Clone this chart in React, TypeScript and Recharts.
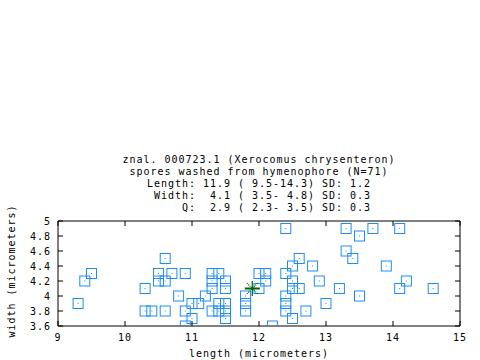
import { ScatterChart, Scatter, XAxis, YAxis } from 'recharts';

// spore measurements (micrometers)
const lengths = [
    9.3, 9.4, 9.5, 10.3, 10.3, 10.4, 10.6, 10.5, 10.7, 10.9,
    10.5, 10.6, 10.8, 10.6, 10.9, 11.0, 10.9, 11.0, 11.1, 11.2,
    11.3, 11.4, 11.3, 11.3, 11.5, 11.5, 11.3, 11.4, 11.4, 11.5,
    11.5, 11.5, 11.8, 11.8, 11.8, 12.0, 12.1, 12.1, 12.0, 12.4,
    12.4, 12.4, 12.4, 12.4, 12.5, 12.6, 12.5, 12.8, 12.5, 12.5,
    12.6, 12.9, 12.7, 13.0, 13.2, 12.2, 13.3, 13.5, 13.7, 14.1,
    13.3, 13.4, 13.9, 14.2, 14.1, 14.6, 13.5,
];
const widths = [
    3.9, 4.2, 4.3, 4.1, 3.8, 3.8, 4.5, 4.3, 4.3, 4.3,
    4.2, 4.2, 4.0, 3.8, 3.8, 3.7, 3.6, 3.9, 3.9, 4.0,
    4.3, 4.3, 4.2, 4.1, 4.2, 4.1, 3.8, 3.9, 3.8, 3.9,
    3.8, 3.7, 4.0, 3.9, 3.8, 4.3, 4.3, 4.2, 4.1, 4.9,
    4.3, 4.0, 3.9, 3.8, 3.7, 4.5, 4.4, 4.4, 4.2, 4.1,
    4.1, 4.2, 3.8, 3.9, 4.1, 3.6, 4.9, 4.8, 4.9, 4.9,
    4.6, 4.5, 4.4, 4.2, 4.1, 4.1, 4.0,
];
const meanLength = [11.9];
const meanWidth = [4.1];

const xTicks = [9, 10, 11, 12, 13, 14, 15];
const yTicks = [3.6, 3.8, 4, 4.2, 4.4, 4.6, 4.8, 5];

const titleLines = [
    'znal. 000723.1 (Xerocomus chrysenteron)',
    'spores washed from hymenophore (N=71)',
    'Length: 11.9 ( 9.5-14.3) SD: 1.2',
    ' Width:  4.1 ( 3.5- 4.8) SD: 0.3',
    '     Q:  2.9 ( 2.3- 3.5) SD: 0.3',
];

const points = lengths.map((l, i) => ({ x: l, y: widths[i] }));
const mean = meanLength.map((l, i) => ({ x: l, y: meanWidth[i] }));

const FONT = '"DejaVu Sans Mono", monospace';
const FS = 10;
const LS = 0.98; // pads each char to ~7px like the bitmap font
const BLUE = '#1E8CF5';
const GREEN = '#006400';

const Box = (props: any) => {
    const { cx, cy } = props;
    return (
        <g>
            <rect x={cx - 5} y={cy - 5} width={10} height={10} fill="none" stroke={BLUE} strokeWidth={1} />
            <rect x={cx - 0.5} y={cy - 0.5} width={1} height={1} fill={BLUE} />
        </g>
    );
};

const Star = (props: any) => {
    const { cx, cy } = props;
    const r = 7.5;
    const d = r * 0.72;
    return (
        <g stroke={GREEN} strokeWidth={1.2}>
            <line x1={cx - r} y1={cy} x2={cx + r} y2={cy} strokeWidth={2} />
            <line x1={cx} y1={cy - r} x2={cx} y2={cy + r} />
            <line x1={cx - d} y1={cy - d} x2={cx + d} y2={cy + d} strokeDasharray="1 1" />
            <line x1={cx - d} y1={cy + d} x2={cx + d} y2={cy - d} strokeDasharray="1 1" />
        </g>
    );
};

const BottomTick = ({ x, payload }: any) => (
    <g>
        <line x1={x} y1={326} x2={x} y2={321} stroke="#000" />
        <text x={x} y={341} textAnchor="middle" fontFamily={FONT} fontSize={FS} letterSpacing={LS} fill="#000">{payload.value}</text>
    </g>
);
const TopTick = ({ x }: any) => <line x1={x} y1={221} x2={x} y2={226} stroke="#000" />;
const LeftTick = ({ y, payload }: any) => (
    <g>
        <line x1={58} y1={y} x2={63} y2={y} stroke="#000" />
        <text x={51} y={y + 4} textAnchor="end" fontFamily={FONT} fontSize={FS} letterSpacing={LS} fill="#000">{String(payload.value)}</text>
    </g>
);
const RightTick = ({ y }: any) => <line x1={460} y1={y} x2={455} y2={y} stroke="#000" />;

export default function App() {
    return (
        <div style={{ position: 'absolute', left: 0, top: 0, width: 480, height: 360, background: '#fff' }}>
            <ScatterChart width={480} height={360} margin={{ top: 220, right: 19, bottom: 33, left: 57 }}>
                <XAxis xAxisId="b" dataKey="x" type="number" domain={[9, 15]} ticks={xTicks} orientation="bottom"
                    height={1} tickSize={0} tickMargin={0} tickLine={false} tick={<BottomTick />} interval={0}
                    axisLine={{ stroke: '#000' }} allowDataOverflow />
                <XAxis xAxisId="t" dataKey="x" type="number" domain={[9, 15]} ticks={xTicks} orientation="top"
                    height={1} tickSize={0} tickMargin={0} tickLine={false} tick={<TopTick />} interval={0}
                    axisLine={{ stroke: '#000' }} allowDataOverflow />
                <YAxis yAxisId="l" dataKey="y" type="number" domain={[3.6, 5]} ticks={yTicks} orientation="left"
                    width={1} tickSize={0} tickMargin={0} tickLine={false} tick={<LeftTick />} interval={0}
                    axisLine={{ stroke: '#000' }} allowDataOverflow />
                <YAxis yAxisId="r" dataKey="y" type="number" domain={[3.6, 5]} ticks={yTicks} orientation="right"
                    width={1} tickSize={0} tickMargin={0} tickLine={false} tick={<RightTick />} interval={0}
                    axisLine={{ stroke: '#000' }} allowDataOverflow />
                <Scatter xAxisId="b" yAxisId="l" data={points} shape={<Box />} isAnimationActive={false} />
                <Scatter xAxisId="t" yAxisId="r" data={mean} shape={<Star />} isAnimationActive={false} />
            </ScatterChart>
            <svg width={480} height={360} style={{ position: 'absolute', left: 0, top: 0, pointerEvents: 'none' }}>
                {titleLines.map((t, i) => (
                    <text key={i} x={259} y={163 + i * 12} textAnchor="middle" fontFamily={FONT} fontSize={FS}
                        letterSpacing={LS} style={{ whiteSpace: 'pre' }} fill="#000">{t}</text>
                ))}
                <text x={259} y={357} textAnchor="middle" fontFamily={FONT} fontSize={FS} letterSpacing={LS} fill="#000">length (micrometers)</text>
                <text x={15} y={271} textAnchor="middle" fontFamily={FONT} fontSize={FS} letterSpacing={LS} fill="#000"
                    transform="rotate(-90 15 271)">width (micrometers)</text>
            </svg>
        </div>
    );
}
